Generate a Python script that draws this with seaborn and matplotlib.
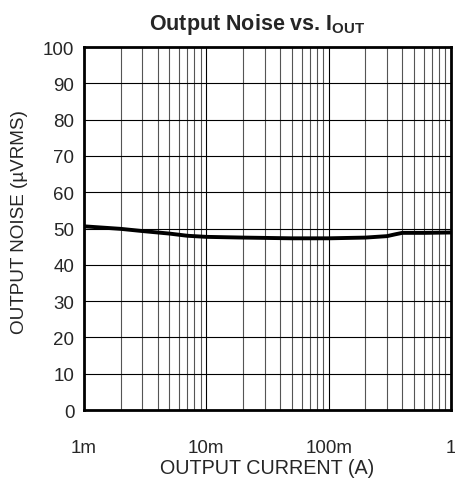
import matplotlib
matplotlib.use("Agg")
import matplotlib.pyplot as plt
import seaborn as sns
import pandas as pd
from matplotlib.ticker import LogLocator, FixedLocator, NullFormatter

# data
current_a = [0.001, 0.002, 0.003, 0.005, 0.007, 0.01, 0.02, 0.05, 0.1, 0.2, 0.3, 0.35, 0.4, 0.6, 1.0]
noise_uv = [50.6, 49.9, 49.3, 48.6, 48.0, 47.7, 47.5, 47.3, 47.3, 47.5, 47.9, 48.4, 48.8, 48.8, 48.9]
x_ticks = [0.001, 0.01, 0.1, 1.0]
x_labels = ["1m", "10m", "100m", "1"]
y_ticks = list(range(0, 101, 10))

sns.set_style("white")
plt.rcParams["font.family"] = ["Liberation Sans", "DejaVu Sans"]
plt.rcParams["mathtext.fontset"] = "custom"
plt.rcParams["mathtext.bf"] = "Liberation Sans:bold"
plt.rcParams["mathtext.rm"] = "Liberation Sans"

df = pd.DataFrame({"I": current_a, "N": noise_uv})

fig = plt.figure(figsize=(4.56, 4.81), dpi=100)
ax = fig.add_axes([0.1842, 0.1455, 0.8048, 0.7547])

ax.set_xscale("log")
ax.set_xlim(0.001, 1.0)
ax.set_ylim(0, 100)

ax.xaxis.set_major_locator(FixedLocator(x_ticks))
ax.set_xticklabels(x_labels)
ax.xaxis.set_minor_locator(LogLocator(base=10, subs=range(2, 10)))
ax.xaxis.set_minor_formatter(NullFormatter())
ax.set_yticks(y_ticks)

ax.grid(True, which="major", axis="both", color="black", linewidth=0.8)
ax.grid(True, which="minor", axis="x", color="#555555", linewidth=0.8)
ax.set_axisbelow(True)

sns.lineplot(data=df, x="I", y="N", ax=ax, color="black", linewidth=2.8, zorder=5)

for s in ax.spines.values():
    s.set_linewidth(2)
    s.set_color("black")

ax.tick_params(axis="x", which="both", length=0, pad=21, labelsize=13.5)
ax.tick_params(axis="y", length=0, pad=7, labelsize=13.5)

ax.set_xlabel("OUTPUT CURRENT (A)", fontsize=14.2, labelpad=1)
ax.set_ylabel("OUTPUT NOISE (µVRMS)", fontsize=13.6)
ax.yaxis.set_label_coords(-0.153, 0.52)
ax.set_title(r"Output Noise vs. I$_{\mathbf{OUT}}$", fontsize=15.5, fontweight="bold",
             pad=13, x=0.473)

fig.savefig("out.png", dpi=100)
